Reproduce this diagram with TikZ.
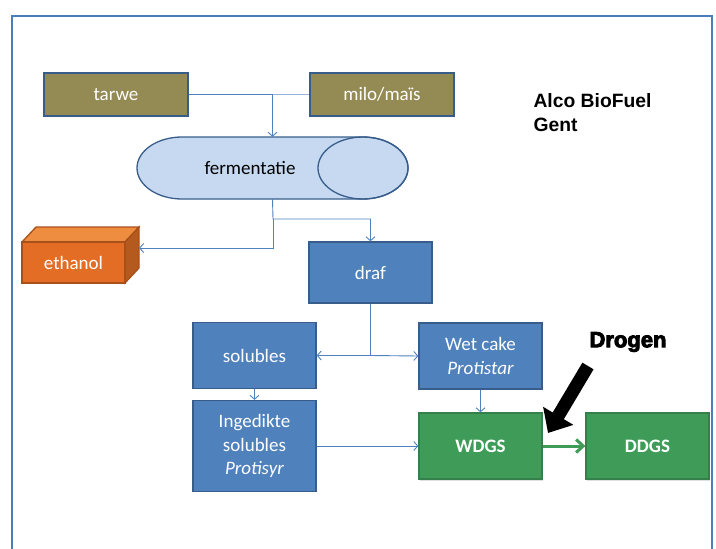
\documentclass[tikz,border=0pt]{standalone}
\usepackage{fontspec}
\setmainfont{Carlito}
\newfontfamily\arialfont{Liberation Sans}
\newfontfamily\heavyfont[FakeBold=4]{Liberation Sans Bold}
\usetikzlibrary{arrows.meta,shadows}

\definecolor{framec}{HTML}{4A7EBB}
\definecolor{linkc}{HTML}{4F81BD}
\definecolor{edgec}{HTML}{385D8A}
\definecolor{grainc}{HTML}{948A54}
\definecolor{stepc}{HTML}{4F81BD}
\definecolor{tankc}{HTML}{C6D9F1}
\definecolor{prodc}{HTML}{3E9B58}
\definecolor{prodedge}{HTML}{357F4A}
\definecolor{ethfront}{HTML}{E46D25}
\definecolor{ethtop}{HTML}{EE8C40}
\definecolor{ethside}{HTML}{B55A1E}
\definecolor{ethedge}{HTML}{A9501A}

\tikzset{
  anybox/.style={draw=edgec, line width=1.3pt, inner sep=0pt, align=center,
    text=white, font=\fontsize{19}{23.5}\selectfont},
  grainbox/.style={anybox, fill=grainc, minimum width=144pt, minimum height=43pt},
  stepbox/.style={anybox, fill=stepc, minimum width=123pt},
  prodbox/.style={anybox, draw=prodedge, fill=prodc, minimum width=123pt,
    minimum height=66pt, font=\fontsize{19}{23.5}\selectfont\bfseries,
    drop shadow={shadow xshift=1pt, shadow yshift=-2pt, opacity=0.25}},
  link/.style={linkc, line width=0.9pt},
  flow/.style={link, -{Straight Barb[length=4pt,width=9pt]}},
}

\begin{document}
\begin{tikzpicture}[x=1pt,y=-1pt]
  \useasboundingbox (0,0) rectangle (716,549);
  \draw[framec, line width=2.5pt] (12,560) -- (12,16) -- (712,16) -- (712,560);

  \node[grainbox] (tarwe) at (116,94.5) {tarwe};
  \node[grainbox] (milo) at (382,94.5) {milo/maïs};
  \node[anchor=north west, align=left, font=\arialfont\bfseries\fontsize{19.3}{24}\selectfont]
    (title) at (530,90) {Alco BioFuel\\Gent};

  % fermentation tank
  \filldraw[fill=tankc, draw=edgec, line width=1.3pt]
    (182,137) -- (363,137) arc[start angle=-90, end angle=90, x radius=45, y radius=31]
    -- (182,199) arc[start angle=90, end angle=270, x radius=45, y radius=31] -- cycle;
  \draw[edgec, line width=1.3pt] (363,168) ellipse[x radius=45, y radius=31];
  \node[inner sep=0pt, minimum width=272pt, minimum height=62pt] (ferm) at (272.5,168) {};
  \node[font=\fontsize{19}{23.5}\selectfont] (fermlabel) at (250,168) {fermentatie};

  % ethanol block
  \fill[ethtop, draw=ethedge, line width=1.3pt] (22,242) -- (36,227) -- (139,227) -- (125,242) -- cycle;
  \fill[ethside, draw=ethedge, line width=1.3pt] (125,242) -- (139,227) -- (139,268) -- (125,283) -- cycle;
  \node[anybox, draw=ethedge, fill=ethfront, minimum width=103pt, minimum height=41pt]
    (ethanol) at (73.5,262.5) {ethanol};
  \coordinate (ethside) at (139,248);

  \node[stepbox, minimum height=61pt] (draf) at (370.5,272.5) {draf};
  \node[stepbox, minimum height=66pt] (solubles) at (254.5,355.5) {solubles};
  \node[stepbox, minimum height=91pt] (ingedikt) at (254.5,446) {Ingedikte\\solubles\\\textit{Protisyr}};
  \node[stepbox, minimum height=66pt] (wetcake) at (480.5,356) {Wet cake\\\textit{Protistar}};
  \node[prodbox] (wdgs) at (480.5,446) {WDGS};
  \node[prodbox] (ddgs) at (647.5,446) {DDGS};

  % connectors
  \coordinate (mix) at (273,94.5);
  \coordinate (split) at (273,219);
  \coordinate (fork) at (370.5,355.5);
  \draw[link, linkc!60] (milo.west) -- (mix);
  \draw[flow] (tarwe.east) -| (ferm.north);
  \draw[flow] (ferm.south) -- (split) -| (draf.north);
  \draw[flow] (split) |- (ethside);
  \draw[link] (draf.south) -- (fork);
  \draw[flow] (fork) -- (solubles.east);
  \draw[flow] (fork) -- (wetcake.west);
  \draw[flow] (solubles.south) -- (ingedikt.north);
  \draw[flow] (wetcake.south) -- (wdgs.north);
  \draw[flow] (ingedikt.east) -- (wdgs.west);
  \draw[prodc, line width=3pt, -{Straight Barb[length=7pt,width=13pt,line width=3pt]}] (wdgs.east) -- (ddgs.west);

  % drogen
  \node[font=\heavyfont\fontsize{22}{26}\selectfont] (drogen) at (628,342) {Drogen};
  \coordinate (drytail) at (588,366);
  \coordinate (drytip) at (548,433);
  \draw[line width=13pt, -{Triangle[length=20pt,width=34pt]}] (drytail) -- (drytip);
\end{tikzpicture}
\end{document}
